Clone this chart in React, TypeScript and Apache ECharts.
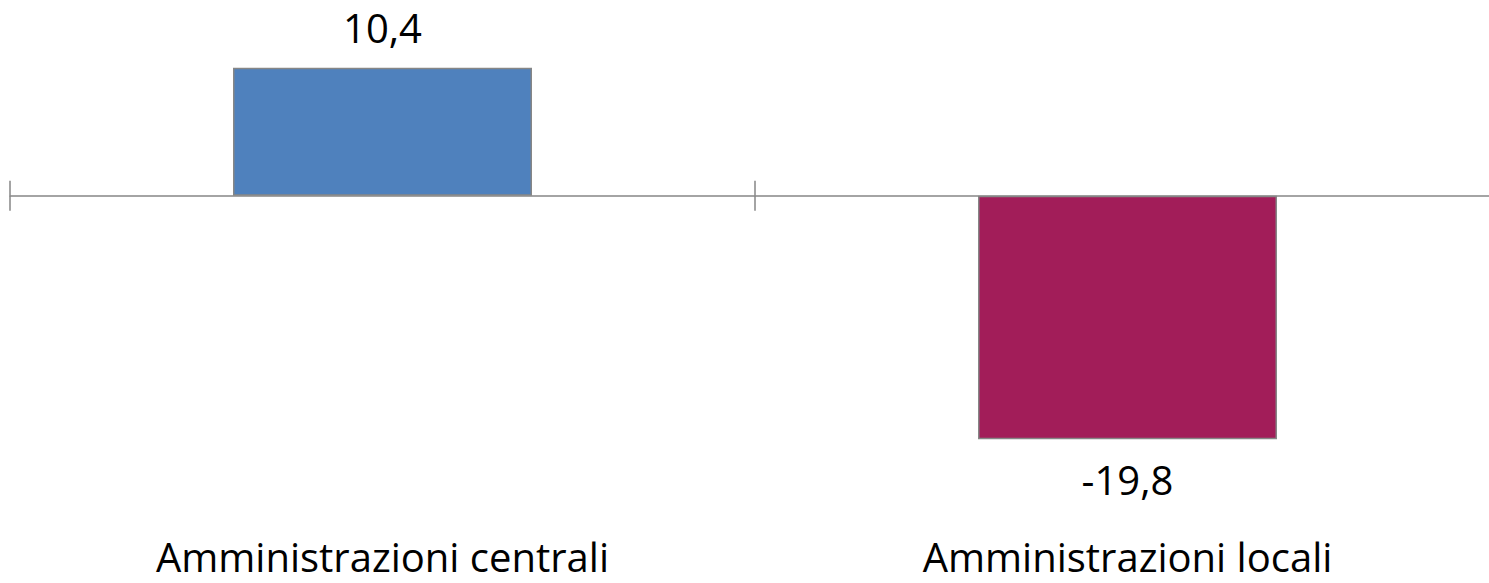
import React, { useEffect, useRef } from "react";
import * as echarts from "echarts";

const categories = ["Amministrazioni centrali", "Amministrazioni locali"];
const values = [10.4, -19.8];
const barColors = ["#4F81BD", "#A21D59"];
const yMin = -20;
const yMax = 15;

const fmt = (v: number) => v.toFixed(1).replace(".", ",");

export default function App() {
  const ref = useRef<HTMLDivElement>(null);
  useEffect(() => {
    if (!ref.current) return;
    const chart = echarts.init(ref.current, null, { renderer: "svg" });
    const font = "'Open Sans', 'Noto Sans', sans-serif";
    chart.setOption({
      animation: false,
      backgroundColor: "#ffffff",
      grid: {
        left: 10,
        width: 1490,
        top: 11.2,
        height: 430.5,
        containLabel: false,
        outerBoundsMode: "none",
      },
      xAxis: [
        {
          type: "category",
          data: categories,
          position: "bottom",
          axisLine: { show: true, onZero: true, lineStyle: { color: "#868686", width: 1.5 } },
          axisTick: { show: true, inside: false, length: 15, lineStyle: { color: "#868686", width: 1.5 } },
          axisLabel: { show: false },
          splitLine: { show: false },
        },
        {
          type: "category",
          data: categories,
          position: "bottom",
          axisLine: { show: false, onZero: true, onZeroAxisIndex: 0 },
          axisTick: { show: true, inside: true, length: 15, lineStyle: { color: "#868686", width: 1.5 } },
          axisLabel: { show: false },
          splitLine: { show: false },
        },
        {
          type: "category",
          data: categories,
          position: "bottom",
          axisLine: { show: false, onZero: false },
          axisTick: { show: false },
          axisLabel: { show: true, margin: 95, color: "#000000", fontFamily: font, fontSize: 40 },
          splitLine: { show: false },
        },
      ],
      yAxis: {
        type: "value",
        min: yMin,
        max: yMax,
        show: false,
        splitLine: { show: false },
      },
      series: [
        {
          type: "bar",
          xAxisIndex: 0,
          barWidth: 299,
          data: values.map((v, i) => ({
            value: v,
            itemStyle: { color: barColors[i], borderColor: "#868686", borderWidth: 1.5 },
            label: {
              show: true,
              position: v >= 0 ? "top" : "bottom",
              distance: 20,
              formatter: () => fmt(v),
              color: "#000000",
              fontFamily: font,
              fontSize: 40,
            },
          })),
        },
      ],
    });
    return () => chart.dispose();
  }, []);
  return (
    <div
      ref={ref}
      style={{ position: "fixed", left: 0, top: 0, width: 1489, height: 583, background: "#fff" }}
    />
  );
}
